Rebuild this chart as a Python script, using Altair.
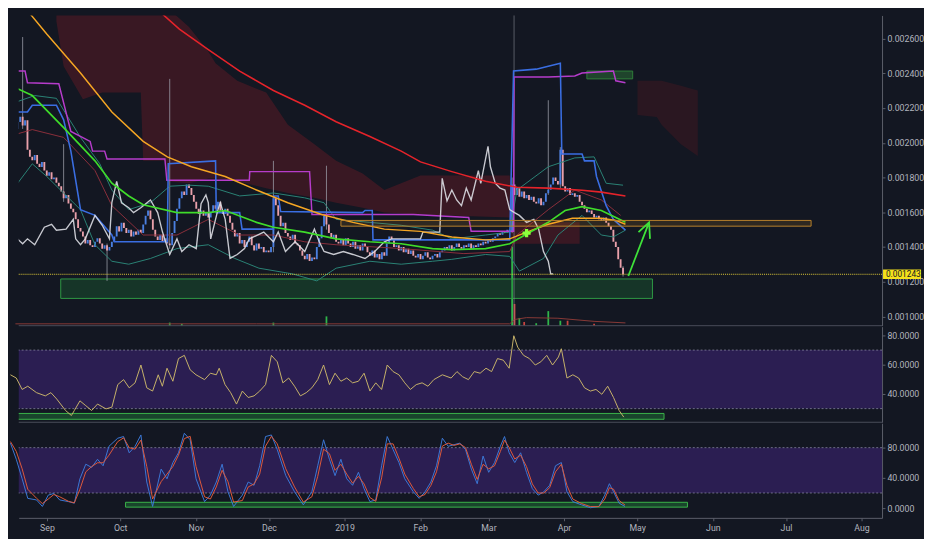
import altair as alt
import pandas as pd

# ---------------- data (prices in millionths, i.e. 1243 = 0.001243) ----------------
START = "2018-08-17"  # day 0

CLOSES = [
    2080, 2120, 2150, 2100, 2130, 1960, 1920, 1900, 1930, 1880,
    1860, 1890, 1840, 1810, 1830, 1790, 1800, 1770, 1750, 1720,
    1680, 1700, 1650, 1620, 1600, 1560, 1510, 1490, 1460, 1420,
    1440, 1410, 1400, 1430, 1450, 1420, 1390, 1410, 1380, 1400,
    1430, 1460, 1520, 1490, 1540, 1510, 1480, 1500, 1460, 1490,
    1470, 1500, 1480, 1530, 1580, 1610, 1560, 1500, 1460, 1440,
    1470, 1430, 1450, 1420, 1410, 1480, 1550, 1620, 1680, 1720,
    1700, 1760, 1740, 1700, 1660, 1620, 1590, 1610, 1580, 1600,
    1570, 1600, 1640, 1620, 1660, 1610, 1590, 1620, 1580, 1540,
    1500, 1460, 1480, 1420, 1440, 1400, 1430, 1460, 1410, 1380,
    1420, 1390, 1400, 1370, 1380, 1370, 1400, 1680, 1640, 1580,
    1520, 1540, 1480, 1460, 1440, 1470, 1420, 1410, 1380, 1350,
    1330, 1360, 1320, 1340, 1330, 1400, 1450, 1520, 1580, 1530,
    1480, 1450, 1470, 1430, 1420, 1440, 1410, 1450, 1420, 1400,
    1430, 1390, 1410, 1380, 1420, 1400, 1370, 1350, 1380, 1340,
    1360, 1330, 1370, 1350, 1420, 1460, 1440, 1400, 1410, 1380,
    1400, 1370, 1390, 1360, 1380, 1350, 1340, 1360, 1330, 1350,
    1370, 1340, 1330, 1350, 1360, 1340, 1370, 1380, 1400, 1390,
    1410, 1380, 1400, 1420, 1400, 1390, 1410, 1400, 1420, 1390,
    1410, 1400, 1420, 1410, 1430, 1420, 1440, 1430, 1450, 1460,
    1480, 1470, 1490, 1480, 1500, 1490, 1760, 1700, 1740, 1690,
    1720, 1680, 1700, 1670, 1690, 1660, 1650, 1680, 1640, 1660,
    1710, 1730, 1760, 1800, 1780, 1760, 1960, 1750, 1720, 1740,
    1700, 1710, 1690, 1700, 1660, 1640, 1620, 1600, 1610, 1590,
    1570, 1580, 1560, 1550, 1570, 1540, 1520, 1500, 1430, 1400,
    1330, 1280, 1243,
]
FIRST_OPEN = 2060

WICK_D = [3, 20, 38, 64, 107, 129, 206, 221, 226, 252]
WICK_HI = [2609, 1992, 1420, 2368, 1896, 1868, 1800, 2245, 1975, 1290]
WICK_LO = [2080, 1660, 1205, 1390, 1370, 1500, 1480, 1700, 1740, 1230]

VOL_D = [64, 69, 107, 129, 206, 207, 209, 211, 216, 221, 226, 229, 240]
VOL_V = [10, 6, 10, 30, 255, 70, 25, 12, 8, 47, 16, 16, 6]
VOL_UP = [1, 1, 1, 1, 1, 0, 1, 0, 1, 1, 1, 0, 0]
VOLMA_D = [0, 100, 205, 207, 212, 225, 240, 253]
VOLMA_V = [6, 6, 6, 20, 26, 24, 14, 9]

RED_D = [54, 58, 68, 80, 93, 107, 120, 133, 147, 160, 168, 181, 195, 208, 221, 235, 243, 253]
RED_V = [2810, 2778, 2654, 2537, 2413, 2301, 2216, 2121, 2036, 1952, 1890, 1834, 1778, 1744, 1739, 1727, 1716, 1694]

ORANGE_D = [0, 4, 13, 27, 40, 53, 63, 73, 87, 100, 113, 127, 140, 153, 168, 181, 195, 205, 212, 221, 231, 243, 249, 253]
ORANGE_V = [2860, 2778, 2626, 2402, 2177, 2008, 1919, 1862, 1806, 1728, 1655, 1587, 1542, 1503, 1490, 1458, 1441, 1447, 1486, 1531, 1565, 1565, 1553, 1531]

GREEN_D = [0, 7, 20, 33, 40, 47, 53, 67, 80, 87, 100, 107, 120, 133, 147, 160, 173, 181, 195, 205, 212, 221, 228, 235, 243, 249, 253]
GREEN_V = [2317, 2272, 2087, 1896, 1767, 1694, 1643, 1598, 1598, 1610, 1542, 1514, 1486, 1447, 1430, 1419, 1391, 1385, 1391, 1419, 1475, 1542, 1610, 1632, 1610, 1570, 1542]

BBU_D = [0, 8, 17, 27, 35, 40, 47, 56, 64, 72, 80, 93, 107, 120, 128, 133, 147, 160, 173, 181, 195, 205, 208, 221, 232, 240, 245, 252]
BBU_V = [2233, 2272, 2256, 2031, 1879, 1728, 1615, 1655, 1750, 1756, 1750, 1694, 1711, 1683, 1655, 1559, 1542, 1525, 1497, 1447, 1469, 1486, 1728, 1862, 1913, 1919, 1767, 1756]

BBL_D = [0, 7, 13, 27, 33, 40, 47, 56, 67, 80, 91, 101, 115, 125, 133, 147, 160, 173, 181, 195, 205, 209, 219, 225, 235, 243, 248, 253]
BBL_V = [1750, 1879, 1806, 1615, 1413, 1318, 1301, 1334, 1391, 1413, 1334, 1278, 1245, 1205, 1278, 1318, 1301, 1318, 1329, 1357, 1346, 1261, 1334, 1469, 1582, 1469, 1458, 1497]

BASIS_D = [0, 7, 20, 33, 40, 53, 67, 80, 93, 107, 120, 133, 147, 160, 186, 205, 208, 221, 232, 243, 251]
BASIS_V = [2048, 2076, 2031, 1840, 1638, 1469, 1469, 1559, 1469, 1469, 1430, 1413, 1402, 1391, 1362, 1374, 1469, 1615, 1728, 1671, 1582]

BLUE_D = [0, 5, 7, 17, 20, 23, 27, 33, 40, 41, 63, 63.4, 83, 83.3, 93, 94, 107, 107.2, 109, 110,
          144, 145, 148, 148.3, 205, 206.6, 216, 226, 226.6, 235, 236, 240, 241, 245, 248, 253]
BLUE_V = [2177, 2177, 2216, 2216, 2132, 1952, 1615, 1582, 1469, 1430, 1430, 1879, 1896, 1598, 1598, 1503, 1503, 1694, 1694, 1604,
          1598, 1610, 1610, 1441, 1441, 2413, 2424, 2458, 1935, 1935, 1896, 1896, 1806, 1638, 1559, 1497]

MAG_D = [0, 4, 5, 18, 23, 31, 32, 37, 38, 62, 62.8, 97, 97.2, 122, 123, 165, 188, 189, 206.6, 206.8,
         221, 232, 235, 248, 249, 253]
MAG_V = [2413, 2413, 2346, 2340, 2065, 2008, 1952, 1952, 1907, 1907, 1784, 1784, 1834, 1834, 1587, 1587, 1570, 1491, 1491, 2379,
         2379, 2385, 2402, 2413, 2357, 2346]

WHITE_D = [0, 3, 5, 8, 12, 15, 17, 21, 24, 25, 27, 29, 33, 36, 39, 40, 42, 44, 47, 49,
           52, 56, 59, 61, 64, 67, 69, 72, 75, 77, 79, 80, 81, 84, 85, 87, 89, 92, 95, 97,
           103, 107, 109, 112, 116, 120, 124, 126, 128, 132, 136, 140, 145, 149, 153, 156, 160, 168, 169, 176,
           177, 179, 181, 183, 185, 187, 189, 192, 193, 196, 197, 199, 201, 203, 205, 207, 209, 212, 215, 217,
           219, 221, 222, 223]
WHITE_V = [1458, 1419, 1447, 1413, 1514, 1531, 1497, 1503, 1559, 1447, 1413, 1447, 1582, 1525, 1447, 1655, 1778, 1655, 1626, 1598,
           1626, 1671, 1598, 1486, 1357, 1447, 1374, 1413, 1391, 1650, 1700, 1655, 1447, 1615, 1655, 1559, 1334, 1357, 1391, 1447,
           1486, 1430, 1486, 1374, 1430, 1374, 1503, 1430, 1374, 1357, 1374, 1357, 1334, 1374, 1430, 1447, 1447, 1447, 1486, 1486,
           1795, 1666, 1728, 1671, 1638, 1739, 1671, 1840, 1767, 1980, 1862, 1767, 1739, 1728, 1615, 1598, 1582, 1542, 1559, 1503,
           1374, 1318, 1245, 1245]

CLOUD_D = [17, 20, 28, 36, 52, 53, 62, 63, 72, 80, 83, 92, 104, 113, 124, 133, 144, 153, 168, 180, 205, 206, 220, 234]
CLOUD_TOP = [2778, 2778, 2778, 2778, 2778, 2778, 2778, 2778, 2666, 2525, 2458, 2357, 2289, 2104, 1992, 1896, 1823, 1728, 1812, 1812, 1812, 1542, 1542, 1542]
CLOUD_BOT = [2700, 2440, 2250, 2289, 2289, 1896, 1896, 1778, 1767, 1795, 1795, 1778, 1739, 1711, 1683, 1655, 1626, 1598, 1587, 1582, 1570, 1419, 1419, 1419]
CLOUD2_D = [258, 266, 268, 276, 283]
CLOUD2_TOP = [2357, 2357, 2357, 2329, 2301]
CLOUD2_BOT = [2160, 2149, 2104, 1992, 1924]

LAST_PRICE = 1243
ZONE_ORANGE = (135, 330, 1520, 1553)
ZONE_GREEN = (18.8, 264.2, 1104, 1216)
ZONE_GREEN_TOP = (237, 256, 2368, 2413)
CROSS_D, CROSS_V = 212, 1480
CURSOR_D = 206.8
ARROW_SHAFT_D = [254.2, 262.8]
ARROW_SHAFT_V = [1233, 1542]
ARROW_HEAD_D = [258.4, 262.8, 263.2]
ARROW_HEAD_V = [1486, 1542, 1447]

RSI_D = [0, 2.4, 4.8, 7.1, 10.7, 14.3, 16.6, 19, 22.6, 25,
         26.2, 28.5, 30.9, 33.3, 35.7, 39.2, 41.6, 44, 46.4, 48.7,
         51.1, 53.5, 55.9, 58.3, 60.6, 62.3, 64.2, 66.6, 68.9, 71.3,
         73.7, 76.1, 79.6, 82, 84.4, 85.6, 88, 90.3, 92.7, 95.1,
         97.5, 99.9, 102.2, 104.6, 107, 109.4, 111.7, 114.1, 116.5, 118.9,
         121.3, 123.6, 126, 128.4, 130.8, 133.1, 135.5, 137.9, 140.3, 142.7,
         145, 147.4, 149.8, 152.2, 154.5, 156.9, 159.3, 161.7, 164, 166.4,
         168.8, 171.2, 173.6, 177.1, 180.7, 183.1, 185.4, 187.8, 190.2, 192.6,
         195, 197.3, 199.7, 202.1, 204.5, 206.4, 208, 210.4, 212.8, 215.2,
         217.5, 219.9, 222.3, 224.7, 225.9, 228.2, 230.6, 233, 235.4, 237.8,
         240.1, 242.5, 244.9, 247.3, 249.6, 251.5]
RSI_V = [53.1, 50.9, 43.1, 45.3, 40.9, 38.7, 40.9, 36.5, 28.7, 25.3,
         28.7, 35.3, 32, 28.7, 33.1, 29.8, 31, 46.4, 49.8, 44.2,
         47.6, 59.8, 44.2, 42, 53.1, 45.3, 57.6, 48.7, 64.2, 66.4,
         56.5, 53.1, 49.8, 54.2, 53.1, 57.6, 46.4, 40.9, 33.1, 42,
         37.6, 38.7, 42, 46.4, 66.4, 62, 47.6, 50.9, 45.3, 38.7,
         40.9, 44.2, 49.8, 59.8, 46.4, 54.2, 48.7, 50.9, 47.6, 48.7,
         54.2, 42, 47.6, 43.1, 59.8, 55.3, 53.1, 47.6, 43.1, 46.4,
         47.6, 45.3, 49.8, 53.1, 50.9, 55.3, 51.8, 49.8, 55.3, 54.2,
         57.6, 55.3, 64.2, 63.1, 57.6, 79.8, 72, 66.4, 64.2, 59.8,
         62, 66.4, 59.8, 65.3, 70.9, 50.9, 53.1, 50.9, 44.2, 42,
         43.1, 39.8, 45.3, 37.6, 28.7, 24.2]
RSI_ZONE = (1.2, 268, 22.7, 26.7)

ST_D = [0, 2.4, 4.8, 7.1, 10.7, 13.1, 15.5, 17.8, 20.2, 23.8,
        26.2, 28.5, 30.9, 33.3, 35.7, 38, 40.4, 44, 46.4, 48.7,
        51.1, 53.5, 55.9, 58.3, 61.8, 64.2, 66.6, 68.9, 71.3, 73.7,
        76.1, 79.6, 82, 84.4, 86.8, 89.2, 91.5, 95.1, 97.5, 99.9,
        102.2, 104.6, 107, 109.4, 112.9, 116.5, 120.1, 123.6, 126, 128.4,
        130.8, 133.1, 135.5, 137.9, 140.3, 142.7, 145, 147.4, 149.8, 152.2,
        154.5, 156.9, 159.3, 161.7, 165.2, 167.6, 170, 172.4, 174.7, 177.1,
        179.5, 181.9, 184.3, 186.6, 189, 191.4, 193.8, 196.1, 198.5, 200.9,
        202.6, 204.5, 206.8, 209.2, 211.6, 214, 216.4, 218.7, 221.1, 223.5,
        225.9, 228.2, 230.6, 234.2, 237.8, 241.3, 243.7, 245.6, 247.3, 249.6,
        252]
ST_K = [86, 64.6, 38.8, 12.9, 10.8, 2.2, 17.2, 19.4, 10.8, 8.6,
        6.5, 38.8, 58.1, 53.8, 64.6, 56, 81.8, 92.5, 94.7, 73.2,
        81.8, 96.8, 34.5, 2.2, 51.6, 38.8, 60.3, 73.2, 99, 90.4,
        38.8, 8.6, 17.2, 34.5, 58.1, 21.6, 2.2, 17.2, 34.5, 30.2,
        56, 94.7, 96.8, 77.5, 43, 21.6, 4.3, 21.6, 56, 90.4,
        64.6, 43, 64.6, 38.8, 30.2, 47.4, 25.8, 8.6, 10.8, 56,
        94.7, 77.5, 60.3, 38.8, 21.6, 12.9, 21.6, 34.5, 56, 92.5,
        81.8, 83.9, 86, 77.5, 51.6, 32.3, 68.9, 47.4, 60.3, 81.8,
        94.7, 73.2, 60.3, 73.2, 47.4, 25.8, 17.2, 21.6, 30.2, 56,
        60.3, 21.6, 8.6, 4.3, 0.5, 2.2, 17.2, 32.3, 21.6, 6.5,
        2.2]
ST_DL = [88, 75, 52, 25, 13, 6, 12, 18, 15, 9,
         7, 25, 48, 55, 60, 60, 70, 88, 93, 80,
         78, 90, 55, 12, 35, 45, 55, 70, 92, 95,
         55, 15, 12, 28, 50, 35, 8, 10, 28, 32,
         45, 82, 95, 85, 52, 28, 8, 15, 42, 78,
         72, 50, 58, 45, 33, 42, 32, 14, 9, 40,
         85, 85, 66, 45, 26, 15, 18, 30, 48, 82,
         86, 83, 85, 80, 58, 38, 58, 52, 56, 75,
         90, 80, 65, 70, 55, 32, 20, 20, 27, 48,
         58, 30, 12, 6, 2, 2, 12, 27, 25, 10,
         4]
ST_ZONE = (47.2, 277.6, 1.3, 7.7)

PRICE_TICKS = [0.0010, 0.0012, 0.0014, 0.0016, 0.0018, 0.0020, 0.0022, 0.0024, 0.0026]
RSI_TICKS = [40, 60, 80]
ST_TICKS = [0, 40, 80]
MONTHS = pd.date_range("2018-09-01", "2019-08-01", freq="MS", tz="UTC")

# ---------------- helpers ----------------
START_MS = int(pd.Timestamp(START, tz="UTC").timestamp() * 1000)
DAY = 86400000


def ts(days):
    return [START_MS + int(round(d * DAY)) for d in days]


def pr(vals):
    return [v / 1e6 for v in vals]


W, H1, H2, H3 = 885, 318, 98, 97
BG = "#131722"
TXT = "#b2b5be"
AXC = "#5d606b"
FONT = "Roboto"

XS = alt.Scale(type="utc", domain=ts([3.4, 357.4]), nice=False)
PY = alt.Scale(domain=[0.000947, 0.002733], nice=False, zero=False)
VY = alt.Scale(domain=[0, 1000], nice=False)
RY = alt.Scale(domain=[20.67, 86], nice=False, zero=False)
SY = alt.Scale(domain=[-12.9, 112.3], nice=False, zero=False)


def yaxis(values, fmt):
    return alt.Axis(orient="right", values=values, format=fmt, title=None, grid=False,
                    labelColor=TXT, labelFontSize=9, labelFont=FONT, tickSize=3,
                    tickColor=AXC, domainColor=AXC, labelPadding=2)


PAX = yaxis(PRICE_TICKS, ".6f")
RAX = yaxis(RSI_TICKS, ".4f")
SAX = yaxis(ST_TICKS, ".4f")
XAX = alt.Axis(values=[int(m.timestamp() * 1000) for m in MONTHS],
               labelExpr="utcFormat(datum.value, '%m') == '01' ? utcFormat(datum.value, '%Y') : utcFormat(datum.value, '%b')",
               title=None, grid=False, labelColor=TXT, labelFontSize=9, labelFont=FONT,
               tickSize=3, tickColor=AXC, domainColor=AXC, labelPadding=3)


def X(field="t", axis=None):
    return alt.X(f"{field}:T", scale=XS, axis=axis)


def PYenc(field):
    return alt.Y(f"{field}:Q", scale=PY, axis=PAX)


def pline(days, vals, color, w=1.5, op=1.0):
    df = pd.DataFrame({"t": ts(days), "p": pr(vals)})
    return alt.Chart(df).mark_line(color=color, strokeWidth=w, opacity=op, clip=True).encode(
        x=X(), y=PYenc("p"))


def zone(z, scale, axis, fill, fop, stroke, xaxis=None):
    df = pd.DataFrame({"t": ts([z[0]]), "t2": ts([z[1]]), "lo": [z[2]], "hi": [z[3]]})
    return alt.Chart(df).mark_rect(fill=fill, fillOpacity=fop, stroke=stroke, strokeWidth=1, clip=True).encode(
        x=X("t", xaxis), x2="t2:T", y=alt.Y("hi:Q", scale=scale, axis=axis), y2="lo:Q")


def pzone(z, fill, fop, stroke):
    return zone((z[0], z[1], z[2] / 1e6, z[3] / 1e6), PY, PAX, fill, fop, stroke)


# ---------------- main price panel ----------------
opens = [FIRST_OPEN] + CLOSES[:-1]
cdf = pd.DataFrame({"t": ts(range(len(CLOSES))), "o": pr(opens), "c": pr(CLOSES)})
candles = alt.Chart(cdf).mark_bar(width=1.9, clip=True).encode(
    x=X(), y=PYenc("o"), y2="c:Q",
    color=alt.condition("datum.c >= datum.o", alt.value("#4a7fe0"), alt.value("#e9a0aa")))

wdf = pd.DataFrame({"t": ts(WICK_D), "hi": pr(WICK_HI), "lo": pr(WICK_LO)})
wicks = alt.Chart(wdf).mark_rule(color="#a3a6b0", opacity=0.75, clip=True).encode(
    x=X(), y=PYenc("hi"), y2="lo:Q")

cl1 = pd.DataFrame({"t": ts(CLOUD_D), "top": pr(CLOUD_TOP), "bot": pr(CLOUD_BOT)})
cloud1 = alt.Chart(cl1).mark_area(color="#3e1824", opacity=0.9, clip=True).encode(
    x=X(), y=PYenc("top"), y2="bot:Q")
cl2 = pd.DataFrame({"t": ts(CLOUD2_D), "top": pr(CLOUD2_TOP), "bot": pr(CLOUD2_BOT)})
cloud2 = alt.Chart(cl2).mark_area(color="#3a1722", opacity=0.6, clip=True).encode(
    x=X(), y=PYenc("top"), y2="bot:Q")

cursor = alt.Chart(pd.DataFrame({"t": ts([CURSOR_D])})).mark_rule(
    color="#9598a1", opacity=0.55, strokeWidth=1).encode(x=X())

last_df = pd.DataFrame({"p": pr([LAST_PRICE])})
last_line = alt.Chart(last_df).mark_rule(color="#e6d03a", strokeDash=[1, 1], strokeWidth=1).encode(
    y=PYenc("p"))

tag_df = pd.DataFrame({"hi": pr([LAST_PRICE + 27]), "lo": pr([LAST_PRICE - 27]),
                       "p": pr([LAST_PRICE]), "label": ["0.001243"]})
tag_box = alt.Chart(tag_df).mark_rect(color="#f4e11c").encode(
    x=alt.value(W + 1), x2=alt.value(W + 40), y=PYenc("hi"), y2="lo:Q")
tag_txt = alt.Chart(tag_df).mark_text(align="left", baseline="middle", fontSize=8.5, font=FONT,
                                      color="#131722").encode(
    x=alt.value(W + 4), y=PYenc("p"), text="label:N")

adf = pd.DataFrame({"t": ts(ARROW_SHAFT_D + ARROW_HEAD_D),
                    "p": pr(ARROW_SHAFT_V + ARROW_HEAD_V),
                    "g": ["shaft"] * len(ARROW_SHAFT_D) + ["head"] * len(ARROW_HEAD_D)})
arrow = alt.Chart(adf).mark_line(color="#3fe33a", strokeWidth=1.8).encode(
    x=X(), y=PYenc("p"), detail="g:N")

cross = alt.Chart(pd.DataFrame({"t": ts([CROSS_D]), "p": pr([CROSS_V])})).mark_point(
    shape="cross", filled=True, size=70, color="#8dff3c", opacity=1).encode(x=X(), y=PYenc("p"))

sep1 = alt.Chart(last_df).mark_rule(color="#4a4e5a", strokeWidth=1).encode(y=alt.value(H1))

price_layer = alt.layer(
    cloud1, cloud2,
    pzone(ZONE_GREEN_TOP, "#2e7d3a", 0.45, "#2e7d3a"),
    pzone(ZONE_GREEN, "#1e6e34", 0.35, "#2f9a45"),
    cursor,
    wicks, candles,
    pline(BBU_D, BBU_V, "#2b8577", 1),
    pline(BBL_D, BBL_V, "#2b8577", 1),
    pline(BASIS_D, BASIS_V, "#8c2f3c", 1),
    pline(MAG_D, MAG_V, "#b63ccb", 1.5),
    pline(BLUE_D, BLUE_V, "#3a6ee2", 1.6),
    pline(WHITE_D, WHITE_V, "#dcdde3", 1.4, 0.9),
    pline(RED_D, RED_V, "#e5232a", 1.6),
    pline(ORANGE_D, ORANGE_V, "#f5a623", 1.5),
    pline(GREEN_D, GREEN_V, "#3fdc2a", 1.7),
    pzone(ZONE_ORANGE, "#f5a623", 0.12, "#b9822c"),
    last_line, arrow, cross, tag_box, tag_txt, sep1,
)

vdf = pd.DataFrame({"t": ts(VOL_D), "v": VOL_V, "up": VOL_UP})
vol_bars = alt.Chart(vdf).mark_bar(width=1.8).encode(
    x=X(), y=alt.Y("v:Q", scale=VY, axis=None),
    color=alt.condition("datum.up == 1", alt.value("#2fb64a"), alt.value("#c8453f")))
vmdf = pd.DataFrame({"t": ts(VOLMA_D), "v": VOLMA_V})
vol_ma = alt.Chart(vmdf).mark_line(color="#8a3a36", strokeWidth=1).encode(
    x=X(), y=alt.Y("v:Q", scale=VY, axis=None))
vol_layer = alt.layer(vol_bars, vol_ma)

main = alt.layer(vol_layer, price_layer).resolve_scale(y="independent").properties(width=W, height=H1)

# ---------------- RSI panel ----------------
def band(lo, hi, scale, axis):
    df = pd.DataFrame({"lo": [lo], "hi": [hi]})
    return alt.Chart(df).mark_rect(color="#2b1e52").encode(
        x=alt.value(0), x2=alt.value(W), y=alt.Y("hi:Q", scale=scale, axis=axis), y2="lo:Q")


def dotted(levels, scale, axis):
    df = pd.DataFrame({"y": levels})
    return alt.Chart(df).mark_rule(color="#8d8da6", strokeDash=[2, 2], opacity=0.75).encode(
        y=alt.Y("y:Q", scale=scale, axis=axis))


rdf = pd.DataFrame({"t": ts(RSI_D), "v": RSI_V})
rsi_line = alt.Chart(rdf).mark_line(color="#c8b46a", strokeWidth=1).encode(
    x=X(), y=alt.Y("v:Q", scale=RY, axis=RAX))
sep2 = alt.Chart(pd.DataFrame({"y": [0]})).mark_rule(color="#4a4e5a").encode(y=alt.value(H2))

rsi = alt.layer(
    band(30, 70, RY, RAX), dotted([30, 70], RY, RAX),
    zone(RSI_ZONE, RY, RAX, "#1f6b34", 0.55, "#3cb54a"),
    rsi_line, sep2,
).properties(width=W, height=H2)

# ---------------- Stochastic panel ----------------
sdf = pd.DataFrame({"t": ts(ST_D), "k": ST_K, "d": ST_DL})
k_line = alt.Chart(sdf).mark_line(color="#3c78d8", strokeWidth=1).encode(
    x=X("t", XAX), y=alt.Y("k:Q", scale=SY, axis=SAX))
d_line = alt.Chart(sdf).mark_line(color="#e0593b", strokeWidth=1).encode(
    x=X("t", XAX), y=alt.Y("d:Q", scale=SY, axis=SAX))

stoch = alt.layer(
    band(20, 80, SY, SAX), dotted([20, 80], SY, SAX),
    zone(ST_ZONE, SY, SAX, "#1f6b34", 0.55, "#3cb54a", XAX),
    k_line, d_line,
).properties(width=W, height=H3)

chart = alt.vconcat(main, rsi, stoch, spacing=0).resolve_scale(
    x="independent", y="independent").properties(padding=0, background=BG).configure_view(stroke=None)

chart.save("out.html", embed_options={"renderer": "svg", "actions": False})
